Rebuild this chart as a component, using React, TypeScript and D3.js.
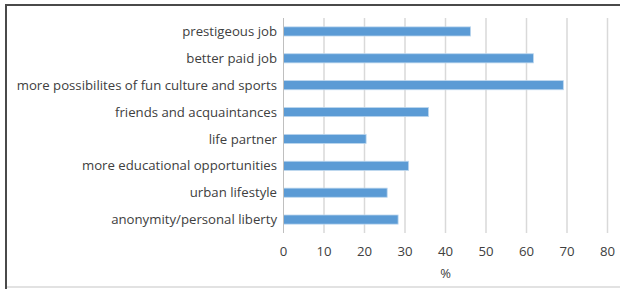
import React, { useEffect, useRef } from "react";
import * as d3 from "d3";

const categories = [
  "prestigeous job",
  "better paid job",
  "more possibilites of fun culture and sports",
  "friends and acquaintances",
  "life partner",
  "more educational opportunities",
  "urban lifestyle",
  "anonymity/personal liberty",
];
const values = [46.2, 61.7, 69.1, 35.8, 20.4, 30.9, 25.6, 28.3];
const xTicks = [0, 10, 20, 30, 40, 50, 60, 70, 80];
const axisTitle = "%";

const W = 620;
const H = 289;

const App = () => {
  const ref = useRef<SVGSVGElement>(null);

  useEffect(() => {
    document.body.style.margin = "0";
    const svg = d3.select(ref.current);
    svg.selectAll("*").remove();

    const font = "Open Sans, sans-serif";
    const margin = { top: 18, left: 283.5, right: 12.5, bottom: 56 };

    const x = d3
      .scaleLinear()
      .domain([0, 80])
      .range([margin.left, W - margin.right]);

    const y = d3
      .scaleBand()
      .domain(categories)
      .range([margin.top, H - margin.bottom])
      .paddingInner(0.66)
      .paddingOuter(0.33);

    // frame
    svg
      .append("rect")
      .attr("x", 6)
      .attr("y", 5)
      .attr("width", W)
      .attr("height", 282)
      .attr("fill", "#fff")
      .attr("stroke", "#d9d9d9")
      .attr("stroke-width", 1.5);
    svg
      .append("path")
      .attr("d", `M6,${H}V5H${W}`)
      .attr("fill", "none")
      .attr("stroke", "#4a4a4a")
      .attr("stroke-width", 2);

    // gridlines
    svg
      .append("g")
      .selectAll("line")
      .data(xTicks.slice(1))
      .join("line")
      .attr("x1", (d) => x(d))
      .attr("x2", (d) => x(d))
      .attr("y1", margin.top)
      .attr("y2", H - margin.bottom)
      .attr("stroke", "#d9d9d9")
      .attr("stroke-width", 1.5);

    // bars
    svg
      .append("g")
      .selectAll("rect")
      .data(values)
      .join("rect")
      .attr("x", x(0))
      .attr("y", (d, i) => y(categories[i])!)
      .attr("width", (d) => x(d) - x(0))
      .attr("height", y.bandwidth())
      .attr("fill", "#5b9bd5")
      .attr("stroke", "#bdd7ee")
      .attr("stroke-width", 0.8);

    // y axis line
    svg
      .append("line")
      .attr("x1", x(0))
      .attr("x2", x(0))
      .attr("y1", margin.top)
      .attr("y2", H - margin.bottom)
      .attr("stroke", "#bfbfbf")
      .attr("stroke-width", 1);

    // category labels
    svg
      .append("g")
      .selectAll("text")
      .data(categories)
      .join("text")
      .attr("x", x(0) - 6.5)
      .attr("y", (d) => y(d)! + y.bandwidth() / 2)
      .attr("dy", "0.35em")
      .attr("text-anchor", "end")
      .attr("font-family", font)
      .attr("font-size", 13.2)
      .attr("fill", "#404040")
      .text((d) => d);

    // x tick labels
    svg
      .append("g")
      .selectAll("text")
      .data(xTicks)
      .join("text")
      .attr("x", (d) => x(d))
      .attr("y", 251)
      .attr("dy", "0.35em")
      .attr("text-anchor", "middle")
      .attr("font-family", font)
      .attr("font-size", 13.2)
      .attr("fill", "#404040")
      .text((d) => d);

    svg
      .append("text")
      .attr("x", x(40))
      .attr("y", 273)
      .attr("dy", "0.35em")
      .attr("text-anchor", "middle")
      .attr("font-family", font)
      .attr("font-size", 13)
      .attr("fill", "#404040")
      .text(axisTitle);
  }, []);

  return <svg ref={ref} width={W} height={H} style={{ display: "block" }} />;
};

export default App;
